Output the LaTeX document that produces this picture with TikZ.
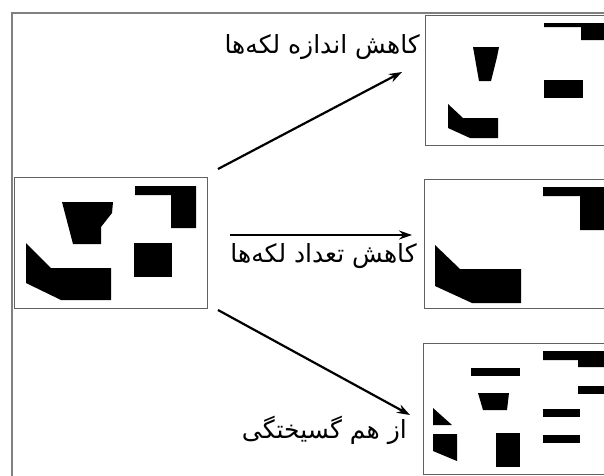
\documentclass[tikz,border=0pt]{standalone}
\usepackage{fontspec}
\newfontfamily\arabicfont[Script=Arabic]{DejaVu Sans}
\TeXXeTstate=1
\usetikzlibrary{arrows.meta}
\begin{document}
\begin{tikzpicture}[x=1pt,y=-1pt,
  blob/.style={fill=black,draw=none},
  panel/.style={draw=black!62,line width=1.3pt,fill=white,inner sep=0pt,anchor=north west},
  frame/.style={draw=black!50,line width=2pt},
  arr/.style={line width=2.2pt,-{Stealth[length=13pt,width=9pt]}},
  lbl/.style={font=\arabicfont\fontsize{25}{28}\selectfont,anchor=east,inner sep=0pt}]
\useasboundingbox (0,0) rectangle (604,475);
\fill[white] (0,0) rectangle (604,475);
% outer frame
\draw[frame] (12,480) -- (12,13) -- (610,13);

% panels
\node[panel,minimum width=193pt,minimum height=131pt] (src) at (14,177) {};
\node[panel,minimum width=200pt,minimum height=130pt] (p1) at (425,15) {};
\node[panel,minimum width=200pt,minimum height=129pt] (p2) at (424,179) {};
\node[panel,minimum width=200pt,minimum height=131pt] (p3) at (423,343) {};

% source shapes
\fill[blob] (62,202) -- (113,202) -- (112,213) -- (101,227) -- (101,244) -- (73,244) -- cycle;
\fill[blob] (135,186) -- (196,186) -- (196,228) -- (171,228) -- (171,195) -- (135,195) -- cycle;
\fill[blob] (134,243) rectangle (172,277);
\fill[blob] (26,243) -- (51,268) -- (111,268) -- (111,300) -- (61,300) -- (26,283) -- cycle;

% panel 1 shapes (size reduction)
\fill[blob] (544,23) -- (606,23) -- (606,40) -- (581,40) -- (581,27) -- (544,27) -- cycle;
\fill[blob] (473,47) -- (499,47) -- (497,57) -- (491,81) -- (479,81) -- cycle;
\fill[blob] (544,80) rectangle (583,98);
\fill[blob] (448,104) -- (463,118) -- (498,118) -- (498,138) -- (470,138) -- (448,128) -- cycle;

% panel 2 shapes (number reduction)
\fill[blob] (543,187) -- (606,187) -- (606,230) -- (580,230) -- (580,196) -- (543,196) -- cycle;
\fill[blob] (435,245) -- (460,269) -- (521,269) -- (521,303) -- (472,303) -- (435,286) -- cycle;

% panel 3 shapes (fragmentation)
\fill[blob] (543,351) -- (606,351) -- (606,367) -- (578,367) -- (578,360) -- (543,360) -- cycle;
\fill[blob] (471,368) rectangle (520,376);
\fill[blob] (578,386) rectangle (606,394);
\fill[blob] (478,393) -- (509,393) -- (507,410) -- (483,410) -- cycle;
\fill[blob] (543,409) rectangle (580,417);
\fill[blob] (543,435) rectangle (580,443);
\fill[blob] (433,408) -- (452,425) -- (433,425) -- cycle;
\fill[blob] (433,434) -- (457,434) -- (457,461) -- (433,451) -- cycle;
\fill[blob] (496,433) rectangle (520,467);

% arrows
\coordinate (a1s) at (218,169);
\coordinate (a1e) at (402,72);
\coordinate (a2s) at (230,235);
\coordinate (a2e) at (412,235);
\coordinate (a3s) at (218,310);
\coordinate (a3e) at (410,415);
\draw[arr] (a1s) -- (a1e);
\draw[arr] (a2s) -- (a2e);
\draw[arr] (a3s) -- (a3e);

% labels
\node[lbl] (t1) at (420,47) {\beginR کاهش اندازه لکه‌ها\endR};
\node[lbl] (t2) at (417,256) {\beginR کاهش تعداد لکه‌ها\endR};
\node[lbl] (t3) at (407,430) {\beginR از هم گسیختگی\endR};
\end{tikzpicture}
\end{document}
